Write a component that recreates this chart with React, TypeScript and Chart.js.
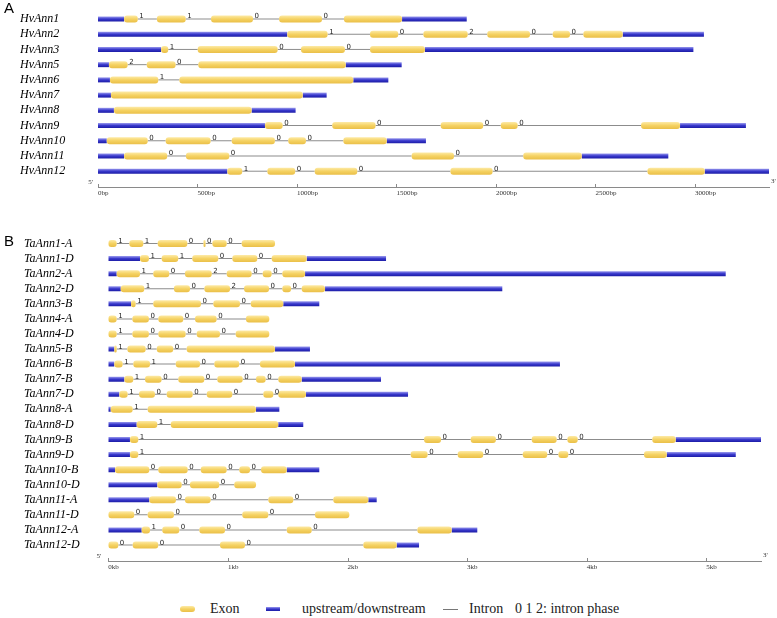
import React, { useEffect, useRef } from 'react';
import { Chart, registerables } from 'chart.js';
Chart.register(...registerables);

// ---------- Panel A (barley, bp) ----------
const hvNames = ['HvAnn1', 'HvAnn2', 'HvAnn3', 'HvAnn5', 'HvAnn6', 'HvAnn7', 'HvAnn8', 'HvAnn9', 'HvAnn10', 'HvAnn11', 'HvAnn12'];
const hvExons: number[][][] = [
  [[131, 200], [296, 441], [568, 779], [910, 1126], [1236, 1528]],
  [[951, 1154], [1367, 1509], [1635, 1858], [1956, 2171], [2285, 2372], [2439, 2637]],
  [[317, 353], [501, 903], [1020, 1241], [1367, 1643]],
  [[55, 149], [245, 390], [504, 1245]],
  [[60, 303], [409, 1283]],
  [[65, 1029]],
  [[80, 772]],
  [[839, 928], [1177, 1395], [1722, 1936], [2024, 2109], [2729, 2925]],
  [[44, 250], [340, 566], [672, 889], [956, 1045], [1233, 1451]],
  [[131, 348], [442, 660], [1576, 1789], [2137, 2431]],
  [[650, 725], [851, 991], [1089, 1303], [1771, 1983], [2761, 3049]],
];
const hvPhases: number[][] = [
  [1, 1, 0, 0],
  [1, 0, 2, 0, 0],
  [1, 0, 0],
  [2, 0],
  [1],
  [],
  [],
  [0, 0, 0, 0],
  [0, 0, 0, 0],
  [0, 0, 0],
  [1, 0, 0, 0],
];
const hvEnds = [1853, 3045, 2992, 1526, 1459, 1149, 993, 3256, 1648, 2866, 3372];
const hvTicks = [0, 500, 1000, 1500, 2000, 2500, 3000];
const hvAxisMax = 3372;

// ---------- Panel B (wheat, bp shown as kb) ----------
const taNames = ['TaAnn1-A', 'TaAnn1-D', 'TaAnn2-A', 'TaAnn2-D', 'TaAnn3-B', 'TaAnn4-A', 'TaAnn4-D', 'TaAnn5-B', 'TaAnn6-B', 'TaAnn7-B', 'TaAnn7-D', 'TaAnn8-A', 'TaAnn8-D', 'TaAnn9-B', 'TaAnn9-D', 'TaAnn10-B', 'TaAnn10-D', 'TaAnn11-A', 'TaAnn11-D', 'TaAnn12-A', 'TaAnn12-D'];
const taExons: number[][][] = [
  [[0, 70], [176, 293], [413, 661], [796, 813], [870, 990], [1115, 1394]],
  [[265, 340], [446, 585], [702, 920], [1037, 1246], [1366, 1659]],
  [[70, 265], [376, 510], [641, 865], [990, 1199], [1291, 1366], [1455, 1645]],
  [[104, 301], [549, 683], [803, 1018], [1135, 1344], [1455, 1528], [1617, 1812]],
  [[190, 229], [376, 775], [878, 1101], [1191, 1463]],
  [[0, 70], [201, 340], [418, 627], [725, 906], [1151, 1346]],
  [[0, 70], [201, 340], [418, 647], [739, 934], [1065, 1346]],
  [[50, 70], [159, 313], [405, 543], [655, 1394]],
  [[50, 120], [209, 349], [564, 767], [886, 1095], [1268, 1561]],
  [[134, 209], [307, 446], [585, 803], [911, 1124], [1235, 1316], [1421, 1617]],
  [[92, 162], [257, 390], [488, 706], [823, 1037], [1296, 1380], [1421, 1653]],
  [[20, 204], [329, 1235]],
  [[237, 410], [522, 1421]],
  [[181, 251], [2640, 2782], [3030, 3241], [3540, 3749], [3838, 3925], [4548, 4744]],
  [[181, 251], [2528, 2670], [2921, 3135], [3465, 3670], [3763, 3846], [4479, 4669]],
  [[56, 343], [418, 664], [773, 990], [1095, 1185], [1277, 1492]],
  [[410, 614], [683, 928], [1053, 1235]],
  [[343, 566], [641, 856], [1338, 1547], [1881, 2174]],
  [[0, 217], [329, 549], [1120, 1338], [1728, 2015]],
  [[279, 349], [451, 594], [761, 976], [1492, 1701], [2584, 2871]],
  [[0, 84], [204, 418], [934, 1143], [2132, 2411]],
];
const taPhases: number[][] = [
  [1, 1, 0, 0, 0],
  [1, 1, 0, 0],
  [1, 0, 2, 0, 0],
  [1, 0, 2, 0, 0],
  [1, 0, 0],
  [1, 0, 0, 0],
  [1, 0, 0, 0],
  [1, 0, 0],
  [1, 1, 0, 0],
  [1, 0, 0, 0, 0],
  [1, 0, 0, 0, 0],
  [1],
  [1],
  [1, 0, 0, 0, 0],
  [1, 0, 0, 0, 0],
  [0, 0, 0, 0],
  [0, 0],
  [0, 0, 0],
  [0, 0, 0],
  [1, 0, 0, 0],
  [0, 0, 0],
];
const taEnds = [1394, 2322, 5162, 3294, 1764, 1346, 1346, 1686, 3776, 2280, 2506, 1430, 1630, 5457, 5246, 1764, 1235, 2244, 2015, 3085, 2598];
const taTicks = [0, 1000, 2000, 3000, 4000, 5000];
const taAxisMax = 5457;

const EXON_STOPS = ['#fdeaa6', '#f5d262', '#eabf48'];
const UTR_STOPS = ['#9a9aee', '#3838cc', '#1c1ca6'];

function gradient(stops: string[], h: number) {
  return (c: any) => {
    const chart = c.chart;
    const ys = chart && chart.scales && chart.scales.y;
    if (c.type !== 'data' || !ys || !c.raw) return stops[1];
    const yc = ys.getPixelForValue(c.raw.y);
    if (!isFinite(yc)) return stops[1];
    const g = chart.ctx.createLinearGradient(0, yc - h / 2, 0, yc + h / 2);
    g.addColorStop(0, stops[0]);
    g.addColorStop(0.5, stops[1]);
    g.addColorStop(1, stops[2]);
    return g;
  };
}

type PanelCfg = {
  names: string[];
  exons: number[][][];
  phases: number[][];
  ends: number[];
  ticks: number[];
  axisMax: number;
  fmt: (v: number) => string;
  yMin: number;
  yMax: number;
  padLeft: number;
  padRight: number;
  yAxisWidth: number;
  xAxisHeight: number;
  fivePrimeGap: number;
};

function buildData(exons: number[][][], ends: number[]) {
  const exonData: any[] = [];
  const utrData: any[] = [];
  const intronData: any[] = [];
  exons.forEach((ex, i) => {
    if (!ex.length) return;
    if (ex[0][0] > 0) utrData.push({ x: [0, ex[0][0]], y: i });
    const last = ex[ex.length - 1][1];
    if (ends[i] > last) utrData.push({ x: [last, ends[i]], y: i });
    ex.forEach((e, k) => {
      exonData.push({ x: [e[0], e[1]], y: i });
      if (k < ex.length - 1) intronData.push({ x: [e[1], ex[k + 1][0]], y: i });
    });
  });
  return { exonData, utrData, intronData };
}

function makeChart(canvas: HTMLCanvasElement, cfg: PanelCfg) {
  const { exonData, utrData, intronData } = buildData(cfg.exons, cfg.ends);
  const annot = {
    id: 'annot',
    afterDatasetsDraw(chart: any) {
      const { ctx, chartArea } = chart;
      const x = chart.scales.x;
      const y = chart.scales.y;
      ctx.save();
      // tick marks above the axis line
      ctx.strokeStyle = '#8a8a8a';
      ctx.lineWidth = 1;
      cfg.ticks.forEach((v) => {
        const px = Math.round(x.getPixelForValue(v)) + 0.5;
        ctx.beginPath();
        ctx.moveTo(px, chartArea.bottom - 3);
        ctx.lineTo(px, chartArea.bottom);
        ctx.stroke();
      });
      // intron phases
      ctx.font = '7px "DejaVu Sans"';
      ctx.fillStyle = '#222';
      ctx.textAlign = 'left';
      ctx.textBaseline = 'alphabetic';
      cfg.exons.forEach((ex, i) => {
        const yc = y.getPixelForValue(i);
        cfg.phases[i].forEach((p, k) => {
          ctx.fillText(String(p), x.getPixelForValue(ex[k][1]) + 1.5, yc - 0.5);
        });
      });
      // 5' / 3'
      ctx.font = '7px "Liberation Serif"';
      ctx.fillStyle = '#333';
      ctx.textBaseline = 'middle';
      ctx.textAlign = 'right';
      ctx.fillText("5'", chartArea.left - cfg.fivePrimeGap, chartArea.bottom - 5);
      ctx.textAlign = 'left';
      ctx.fillText("3'", chartArea.right + 2, chartArea.bottom - 6);
      ctx.restore();
    },
  };
  return new Chart(canvas, {
    type: 'bar',
    data: {
      datasets: [
        {
          label: 'Exon',
          data: exonData,
          backgroundColor: gradient(EXON_STOPS, 7),
          barThickness: 7,
          borderRadius: 3,
          borderSkipped: false,
          inflateAmount: 0,
          grouped: false,
          order: 0,
        } as any,
        {
          label: 'upstream/downstream',
          data: utrData,
          backgroundColor: gradient(UTR_STOPS, 5),
          barThickness: 5,
          borderSkipped: false,
          inflateAmount: 0,
          grouped: false,
          order: 1,
        },
        {
          label: 'Intron',
          data: intronData,
          backgroundColor: '#8c8c8c',
          barThickness: 1,
          borderSkipped: false,
          inflateAmount: 0,
          grouped: false,
          order: 2,
        },
      ],
    },
    options: {
      indexAxis: 'y',
      animation: false,
      responsive: false,
      maintainAspectRatio: false,
      events: [],
      layout: { padding: { left: cfg.padLeft, right: cfg.padRight, top: 8, bottom: 0 } },
      plugins: { legend: { display: false }, tooltip: { enabled: false } },
      scales: {
        x: {
          type: 'linear',
          offset: false,
          min: 0,
          max: cfg.axisMax,
          afterBuildTicks: (s: any) => {
            s.ticks = cfg.ticks.map((v) => ({ value: v }));
          },
          afterFit: (s: any) => {
            s.height = cfg.xAxisHeight;
            s.paddingLeft = 0;
            s.paddingRight = 0;
          },
          grid: { display: false, drawTicks: false },
          border: { display: true, color: '#8a8a8a', width: 1 },
          ticks: {
            callback: (v: any) => cfg.fmt(Number(v)),
            align: 'start',
            padding: 2,
            autoSkip: false,
            maxRotation: 0,
            color: '#333',
            font: { family: 'Liberation Serif', size: 7 },
          },
        },
        y: {
          type: 'linear',
          offset: false,
          reverse: true,
          min: cfg.yMin,
          max: cfg.yMax,
          afterBuildTicks: (s: any) => {
            s.ticks = cfg.names.map((_, i) => ({ value: i }));
          },
          afterFit: (s: any) => {
            s.width = cfg.yAxisWidth;
            s.paddingTop = 0;
            s.paddingBottom = 0;
          },
          grid: { display: false, drawTicks: false, offset: false },
          border: { display: false },
          ticks: {
            callback: (v: any) => cfg.names[Number(v)] ?? '',
            crossAlign: 'far',
            padding: 0,
            autoSkip: false,
            color: '#000',
            font: { family: 'Liberation Serif', size: 12, style: 'italic' },
          },
        },
      },
    } as any,
    plugins: [annot],
  });
}

const panelA: PanelCfg = {
  names: hvNames,
  exons: hvExons,
  phases: hvPhases,
  ends: hvEnds,
  ticks: hvTicks,
  axisMax: hvAxisMax,
  fmt: (v) => `${v}bp`,
  yMin: -0.7227,
  yMax: 11.038,
  padLeft: 20,
  padRight: 8,
  yAxisWidth: 78,
  xAxisHeight: 13,
  fivePrimeGap: 5,
};

const panelB: PanelCfg = {
  names: taNames,
  exons: taExons,
  phases: taPhases,
  ends: taEnds,
  ticks: taTicks,
  axisMax: taAxisMax,
  fmt: (v) => `${v / 1000}kb`,
  yMin: -1.095,
  yMax: 21.06,
  padLeft: 24,
  padRight: 16,
  yAxisWidth: 84.3,
  xAxisHeight: 20,
  fivePrimeGap: 7,
};

function Panel({ cfg, top, height }: { cfg: PanelCfg; top: number; height: number }) {
  const ref = useRef<HTMLCanvasElement | null>(null);
  useEffect(() => {
    if (!ref.current) return;
    const chart = makeChart(ref.current, cfg);
    return () => chart.destroy();
  }, [cfg]);
  return (
    <canvas
      ref={ref}
      width={777}
      height={height}
      style={{ position: 'absolute', left: 0, top, width: 777, height }}
    />
  );
}

const legendText: React.CSSProperties = {
  position: 'absolute',
  top: 601,
  fontFamily: '"Liberation Serif", serif',
  fontSize: 14,
  lineHeight: '16px',
  color: '#222',
  whiteSpace: 'nowrap',
};

export default function App() {
  return (
    <div style={{ position: 'absolute', left: 0, top: 0, width: 777, height: 618, background: '#fff', overflow: 'hidden' }}>
      <Panel cfg={panelA} top={0} height={200} />
      <Panel cfg={panelB} top={219} height={362} />
      <div style={{ position: 'absolute', left: 4, top: 0, fontFamily: '"Liberation Sans", sans-serif', fontSize: 15, lineHeight: '15px' }}>A</div>
      <div style={{ position: 'absolute', left: 4, top: 233, fontFamily: '"Liberation Sans", sans-serif', fontSize: 15, lineHeight: '15px' }}>B</div>
      <div style={{ position: 'absolute', left: 180, top: 606, width: 15, height: 6, borderRadius: 3, background: `linear-gradient(${EXON_STOPS[0]}, ${EXON_STOPS[1]}, ${EXON_STOPS[2]})` }} />
      <div style={{ ...legendText, left: 210 }}>Exon</div>
      <div style={{ position: 'absolute', left: 266, top: 607, width: 14, height: 4, background: `linear-gradient(${UTR_STOPS[0]}, ${UTR_STOPS[1]}, ${UTR_STOPS[2]})` }} />
      <div style={{ ...legendText, left: 302 }}>upstream/downstream</div>
      <div style={{ position: 'absolute', left: 443, top: 609, width: 15, height: 1, background: '#777' }} />
      <div style={{ ...legendText, left: 469 }}>Intron</div>
      <div style={{ ...legendText, left: 515 }}>0 1 2: intron phase</div>
    </div>
  );
}
